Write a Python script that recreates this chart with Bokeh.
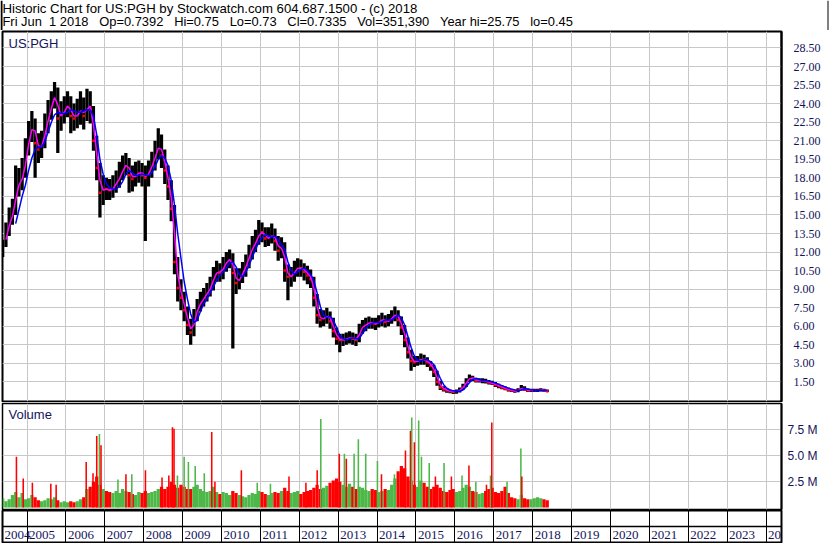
import pandas as pd
from bokeh.plotting import figure
from bokeh.layouts import column
from bokeh.models import Range1d, FixedTicker, Grid, Span, Label, PrintfTickFormatter
from bokeh.embed import file_html
from bokeh.resources import INLINE
from bokeh.core.properties import value

# ---------------- data ----------------
first_month = "2004-05"   # monthly series start, 169 months to 2018-05
close = [12.2, 13.7, 14.7, 15.3, 17.5, 17.8, 18.2, 20.2, 21.5, 22.6,
         20.8, 20.3, 20.8, 22.2, 23.3, 24.2, 25.0, 22.8, 23.0, 23.6,
         24.0, 23.0, 22.8, 23.3, 23.6, 23.0, 24.2, 23.5, 21.0, 18.8,
         16.8, 17.2, 17.1, 17.0, 17.3, 17.7, 18.2, 18.9, 19.2, 18.2,
         17.9, 18.4, 18.5, 18.2, 18.0, 18.6, 19.2, 20.0, 20.8, 19.8,
         18.6, 17.3, 15.5, 11.2, 9.1, 8.3, 7.3, 6.1, 5.5, 6.8,
         7.6, 8.1, 8.4, 8.8, 9.3, 10.1, 10.5, 10.3, 10.9, 11.3,
         11.5, 10.3, 9.5, 10.0, 10.5, 11.1, 11.9, 12.5, 13.0, 13.7,
         13.6, 13.1, 13.2, 13.5, 12.9, 12.1, 12.6, 10.5, 10.0, 10.0,
         10.6, 10.8, 10.7, 10.4, 10.1, 9.8, 8.3, 6.9, 6.5, 6.7,
         6.9, 6.4, 5.6, 5.0, 4.9, 4.9, 5.0, 5.1, 5.0, 4.9,
         5.8, 6.0, 6.2, 6.3, 6.25, 6.2, 6.4, 6.6, 6.35, 6.5,
         6.8, 7.0, 6.5, 5.9, 4.9, 3.9, 3.2, 3.1, 3.2, 3.35,
         3.3, 3.1, 2.8, 2.3, 1.5, 1.05, 0.9, 0.8, 0.75, 0.7,
         0.75, 0.9, 1.2, 1.6, 1.9, 1.75, 1.6, 1.6, 1.6, 1.55,
         1.45, 1.4, 1.25, 1.15, 1.05, 0.95, 0.85, 0.8, 0.75, 0.85,
         1.05, 0.9, 0.8, 0.8, 0.8, 0.8, 0.85, 0.8, 0.75]
high = [13.0, 14.4, 15.6, 16.3, 19.0, 18.8, 19.6, 21.2, 22.6, 23.4,
        22.8, 21.6, 21.8, 23.2, 24.3, 25.0, 25.75, 25.3, 24.2, 24.6,
        25.0, 24.6, 24.0, 24.4, 25.0, 24.5, 25.2, 25.0, 23.8, 21.4,
        19.2, 18.2, 18.0, 17.9, 18.2, 18.6, 19.3, 19.8, 20.0, 19.6,
        19.0, 19.3, 19.4, 19.2, 19.0, 19.4, 20.1, 21.0, 22.0, 21.5,
        20.3, 19.0, 17.8, 15.8, 11.6, 9.8, 8.8, 7.6, 6.6, 7.4,
        8.2, 8.8, 9.1, 9.5, 10.0, 10.8, 11.3, 11.1, 11.6, 12.0,
        12.2, 11.9, 10.7, 10.7, 11.2, 11.8, 12.6, 13.3, 13.8, 14.6,
        14.4, 14.0, 14.0, 14.3, 13.9, 13.3, 13.2, 12.8, 11.0, 10.8,
        11.3, 11.5, 11.4, 11.1, 10.9, 10.6, 10.0, 8.6, 7.4, 7.3,
        7.5, 7.2, 6.7, 5.9, 5.4, 5.4, 5.5, 5.6, 5.5, 5.4,
        6.2, 6.5, 6.7, 6.8, 6.7, 6.7, 6.9, 7.1, 6.9, 7.0,
        7.3, 7.6, 7.3, 6.8, 6.1, 5.1, 4.1, 3.6, 3.6, 3.8,
        3.7, 3.5, 3.2, 2.9, 2.4, 1.6, 1.15, 1.0, 0.9, 0.85,
        0.9, 1.05, 1.35, 1.8, 2.1, 2.0, 1.85, 1.8, 1.8, 1.75,
        1.65, 1.6, 1.5, 1.35, 1.25, 1.15, 1.05, 0.95, 0.9, 1.0,
        1.25, 1.15, 0.98, 0.95, 0.95, 0.95, 1.0, 0.95, 0.9]
low = [11.6, 12.4, 13.3, 14.2, 15.0, 16.5, 17.0, 18.0, 19.8, 20.9,
       18.0, 19.2, 19.6, 20.4, 21.6, 22.7, 23.6, 20.0, 21.8, 22.4,
       22.9, 21.6, 21.8, 22.0, 22.3, 21.9, 22.6, 22.4, 20.2, 17.8,
       14.8, 15.8, 16.2, 16.2, 16.4, 16.8, 17.2, 17.8, 18.2, 16.8,
       16.9, 17.3, 17.6, 17.3, 12.9, 17.3, 18.0, 18.6, 19.5, 18.8,
       17.5, 16.2, 14.5, 10.2, 8.0, 7.3, 6.4, 5.3, 4.5, 5.2,
       6.4, 7.2, 7.6, 8.0, 8.4, 8.9, 9.6, 9.6, 9.8, 10.4,
       10.7, 4.2, 8.6, 9.0, 9.5, 10.0, 10.7, 11.4, 12.0, 12.6,
       12.8, 12.4, 12.5, 12.7, 12.1, 11.3, 11.5, 9.6, 8.1, 9.2,
       9.6, 10.0, 10.0, 9.7, 9.4, 9.1, 7.6, 6.2, 5.9, 6.0,
       6.2, 5.8, 5.1, 4.5, 3.9, 4.4, 4.5, 4.6, 4.5, 4.4,
       4.7, 5.4, 5.6, 5.8, 5.8, 5.7, 5.9, 6.0, 5.9, 6.0,
       6.2, 6.4, 6.0, 5.3, 4.3, 3.4, 2.4, 2.7, 2.8, 2.9,
       2.9, 2.7, 2.4, 1.9, 1.2, 0.85, 0.72, 0.62, 0.58, 0.52,
       0.55, 0.65, 0.85, 1.1, 1.5, 1.55, 1.45, 1.45, 1.4, 1.38,
       1.3, 1.25, 1.1, 1.0, 0.92, 0.82, 0.72, 0.68, 0.62, 0.66,
       0.8, 0.78, 0.68, 0.68, 0.68, 0.68, 0.72, 0.7, 0.68]
# short moving average (magenta), starts at month index 1
ma_short = [13.0, 14.1, 14.9, 16.2, 17.4, 17.9, 19.0, 20.7, 21.9,
            21.8, 20.6, 20.5, 21.4, 22.6, 23.6, 24.5, 23.9, 23.0, 23.3,
            23.8, 23.5, 23.0, 23.0, 23.4, 23.3, 23.5, 23.8, 22.3, 20.0,
            17.8, 17.0, 17.1, 17.0, 17.1, 17.5, 17.9, 18.5, 19.0, 18.8,
            18.1, 18.1, 18.4, 18.4, 18.1, 18.3, 18.9, 19.6, 20.4, 20.3,
            19.3, 18.0, 16.4, 13.5, 10.2, 8.8, 7.8, 6.7, 5.8, 6.1,
            7.2, 7.8, 8.2, 8.6, 9.0, 9.7, 10.3, 10.4, 10.6, 11.1,
            11.4, 11.0, 9.9, 9.7, 10.2, 10.8, 11.5, 12.2, 12.7, 13.3,
            13.6, 13.4, 13.1, 13.3, 13.2, 12.5, 12.3, 11.6, 10.3, 10.0,
            10.3, 10.7, 10.7, 10.6, 10.3, 10.0, 9.1, 7.6, 6.7, 6.6,
            6.8, 6.7, 6.0, 5.3, 4.95, 4.9, 4.95, 5.05, 5.05, 4.95,
            5.3, 5.9, 6.1, 6.25, 6.3, 6.2, 6.3, 6.5, 6.5, 6.4,
            6.6, 6.9, 6.8, 6.2, 5.4, 4.4, 3.5, 3.15, 3.15, 3.3,
            3.3, 3.2, 2.95, 2.55, 1.9, 1.3, 0.98, 0.85, 0.78, 0.72,
            0.72, 0.82, 1.05, 1.4, 1.75, 1.82, 1.68, 1.6, 1.6, 1.58,
            1.5, 1.42, 1.32, 1.2, 1.1, 1.0, 0.9, 0.82, 0.78, 0.8,
            0.95, 0.98, 0.85, 0.8, 0.8, 0.8, 0.82, 0.82, 0.78]
# long moving average (blue), starts at month index 4
ma_long = [14.3, 15.4, 16.5, 17.4, 18.6, 19.6,
           20.3, 20.5, 20.5, 20.9, 21.7, 22.5, 23.1, 23.3, 23.2, 23.2,
           23.3, 23.5, 23.4, 23.3, 23.3, 23.4, 23.5, 23.5, 23.0, 21.5,
           19.5, 18.3, 17.5, 17.2, 17.1, 17.1, 17.3, 17.7, 18.3, 18.6,
           18.4, 18.2, 18.2, 18.3, 18.2, 18.2, 18.4, 18.9, 19.5, 19.8,
           19.6, 19.0, 17.8, 15.8, 13.5, 11.5, 9.6, 8.2, 7.0, 6.3,
           6.5, 7.2, 7.8, 8.2, 8.7, 9.2, 9.7, 10.1, 10.4, 10.7,
           11.1, 11.2, 10.8, 10.2, 10.0, 10.4, 10.9, 11.6, 12.2, 12.8,
           13.2, 13.4, 13.3, 13.2, 13.3, 13.0, 12.6, 12.2, 11.2, 10.5,
           10.2, 10.4, 10.6, 10.7, 10.5, 10.2, 9.7, 8.7, 7.6, 6.9,
           6.7, 6.8, 6.5, 5.9, 5.3, 5.0, 4.9, 5.0, 5.05, 5.0,
           5.0, 5.4, 5.8, 6.1, 6.25, 6.3, 6.3, 6.35, 6.5, 6.5,
           6.5, 6.7, 6.9, 6.7, 6.1, 5.2, 4.3, 3.6, 3.25, 3.2,
           3.3, 3.3, 3.15, 2.9, 2.4, 1.8, 1.3, 1.0, 0.85, 0.78,
           0.74, 0.75, 0.85, 1.1, 1.45, 1.7, 1.78, 1.7, 1.62, 1.6,
           1.56, 1.5, 1.42, 1.32, 1.2, 1.1, 1.0, 0.92, 0.85, 0.8,
           0.85, 0.95, 0.93, 0.86, 0.82, 0.8, 0.8, 0.82, 0.8]
# typical monthly volume (millions)
volume = [0.9, 0.6, 0.8, 1.2, 1.5, 1.0, 1.4, 0.8, 0.9, 1.2,
          1.0, 0.7, 0.6, 0.7, 0.9, 0.8, 1.0, 0.7, 0.5, 0.6,
          0.5, 0.6, 0.5, 0.6, 0.8, 1.0, 1.8, 2.0, 2.5, 3.0,
          2.2, 1.8, 1.6, 1.5, 1.4, 1.6, 1.4, 1.8, 1.6, 1.5,
          1.3, 1.2, 1.5, 1.4, 1.6, 1.4, 1.5, 1.6, 1.8, 2.0,
          1.8, 2.0, 2.5, 2.2, 1.9, 2.2, 2.0, 1.8, 1.8, 2.0,
          2.2, 1.8, 1.6, 1.5, 1.6, 2.0, 1.5, 1.3, 1.5, 1.4,
          1.2, 1.6, 1.4, 1.2, 1.1, 1.0, 1.2, 1.4, 1.3, 1.6,
          1.5, 1.3, 1.2, 1.4, 1.5, 1.4, 1.6, 1.9, 1.6, 1.4,
          1.5, 1.6, 1.3, 1.5, 1.6, 1.7, 1.9, 2.2, 1.8, 1.9,
          2.1, 2.4, 2.6, 2.8, 2.5, 2.2, 2.0, 2.3, 2.0, 1.8,
          2.0, 1.9, 1.7, 1.6, 1.8, 1.7, 1.5, 1.6, 1.8, 1.7,
          2.2, 2.8, 3.5, 4.0, 3.8, 3.0, 2.6, 2.2, 2.0, 2.6,
          2.4, 2.0, 1.8, 2.0, 2.2, 1.9, 1.6, 1.5, 1.7, 1.8,
          1.5, 1.6, 1.9, 2.2, 2.0, 1.6, 1.5, 1.3, 1.4, 1.6,
          1.8, 1.9, 1.5, 1.4, 1.6, 2.0, 1.4, 1.0, 0.9, 0.8,
          1.2, 0.9, 0.8, 0.8, 0.9, 1.0, 0.9, 0.8, 0.7]
# single-day volume spikes (millions)
spike_dates = ["2004-09-23", "2004-11-26", "2005-02-20", "2005-08-12", "2005-10-01",
               "2006-07-10", "2006-09-12", "2006-10-17", "2006-11-11", "2006-11-26",
               "2007-05-04", "2007-07-18", "2007-09-11", "2008-01-17", "2008-06-21",
               "2008-08-24", "2008-09-27", "2008-10-12", "2008-11-13", "2009-01-15",
               "2009-02-24", "2009-04-29", "2009-07-23", "2009-10-01", "2009-10-31",
               "2010-07-06", "2010-12-02", "2011-04-05", "2011-09-26", "2012-03-03",
               "2012-06-17", "2012-07-21", "2013-01-11", "2013-02-28", "2013-03-18",
               "2013-05-30", "2013-07-09", "2013-09-16", "2014-01-04", "2014-02-11",
               "2014-06-13", "2014-09-24", "2014-11-10", "2014-11-22", "2014-12-17",
               "2015-01-26", "2015-02-21", "2015-05-05", "2015-07-02", "2015-09-21",
               "2015-11-29", "2016-03-08", "2016-05-12", "2016-07-16", "2016-10-24",
               "2016-12-01", "2016-12-13", "2017-05-05", "2017-09-12", "2017-09-21"]
spike_vol = [4.9, 2.8, 2.4, 2.3, 2.2,
             4.4, 3.3, 6.9, 7.1, 6.0,
             2.7, 3.2, 3.2, 3.6, 2.9,
             3.1, 7.75, 7.6, 3.1, 4.9,
             4.4, 4.0, 3.3, 7.3, 2.5,
             3.6, 2.4, 2.3, 3.0, 2.4,
             3.6, 8.55, 5.2, 5.2, 4.7,
             5.2, 6.6, 5.2, 4.5, 3.2,
             3.2, 5.5, 7.4, 8.7, 6.3,
             8.4, 4.9, 4.3, 3.0, 4.3,
             3.0, 3.1, 4.05, 2.5, 2.2,
             3.1, 8.2, 2.5, 5.7, 3.0]
spike_dir = ["down", "down", "down", "down", "down",
             "down", "down", "down", "up", "down",
             "up", "down", "up", "down", "down",
             "down", "down", "down", "up", "up",
             "up", "up", "up", "down", "down",
             "down", "up", "up", "down", "down",
             "down", "up", "down", "up", "down",
             "up", "up", "up", "up", "down",
             "up", "down", "down", "up", "down",
             "up", "up", "up", "down", "up",
             "down", "up", "down", "up", "down",
             "up", "down", "up", "up", "down"]
price_ticks = [1.5, 3.0, 4.5, 6.0, 7.5, 9.0, 10.5, 12.0, 13.5, 15.0, 16.5, 18.0,
               19.5, 21.0, 22.5, 24.0, 25.5, 27.0, 28.5]
volume_ticks = [2.5, 5.0, 7.5]
year_labels = list(range(2004, 2025))

SP2 = "\u00a0\u00a0"
SP3 = "\u00a0\u00a0\u00a0"
header1 = "Historic Chart for US:PGH by Stockwatch.com 604.687.1500 - (c) 2018"
header2 = ("Fri Jun" + SP2 + "1 2018" + SP3 + "Op=0.7392" + SP3 + "Hi=0.75" + SP3 + "Lo=0.73"
           + SP3 + "Cl=0.7335" + SP3 + "Vol=351,390" + SP3 + "Year hi=25.75" + SP3 + "lo=0.45")

# ---------------- derived positions ----------------
def dec_year(ts):
    ts = pd.Timestamp(ts)
    n = 366 if ts.is_leap_year else 365
    return ts.year + (ts.dayofyear - 0.5) / n

months = pd.period_range(first_month, periods=len(close), freq="M")
mx = [p.year + (p.month - 0.5) / 12.0 for p in months]
up = [True] + [close[i] >= close[i - 1] for i in range(1, len(close))]
sx = [dec_year(d) for d in spike_dates]

X0, X1 = 2004.370, 2024.398
W = 830
H_HEAD, H_PRICE, H_VOL, H_DATE = 30, 372, 108, 33
LB, RB = 2, 49
GRID = "#c8c8c8"
LABEL = "#14145a"
RED = "#ff0000"
GREEN = "#4db848"
NARROW = "Liberation Sans Narrow"
SANS = "Liberation Sans"
year_ticks = list(range(2005, 2025))


def base_fig(h, yr, **kw):
    f = figure(width=W, height=h, x_range=Range1d(X0, X1), y_range=yr,
               output_backend="svg", toolbar_location=None,
               min_border_left=LB, min_border_right=RB, **kw)
    f.background_fill_color = "white"
    f.border_fill_color = "white"
    f.outline_line_color = "black"
    f.outline_line_width = 2
    f.center = [r for r in f.center if not (isinstance(r, Grid) and r.dimension == 0)]
    f.add_layout(Grid(dimension=0, ticker=FixedTicker(ticks=year_ticks),
                      grid_line_color=GRID, grid_line_width=1))
    return f


# header
hd = figure(width=W, height=H_HEAD, x_range=Range1d(0, W), y_range=Range1d(0, H_HEAD),
            output_backend="svg", toolbar_location=None, min_border=0,
            x_axis_location=None, y_axis_location=None)
hd.frame_align = False
hd.center = [r for r in hd.center if not isinstance(r, Grid)]
hd.outline_line_color = None
hd.text(x=[2], y=[H_HEAD - 0.5], text=[header1],
        text_font=value(SANS), text_font_size=value("13.2px"), text_color="black",
        text_baseline="top", text_align="left")
hd.text(x=[2], y=[H_HEAD - 13], text=[header2],
        text_font=value(SANS), text_font_size=value("12.9px"), text_color="black",
        text_baseline="top", text_align="left")
hd.add_layout(Span(location=1, dimension="height", line_color="black", line_width=2))
hd.add_layout(Span(location=W - 2.5, dimension="height", line_color="black", line_width=1))

# price
p = base_fig(H_PRICE, Range1d(-0.08, 29.83), x_axis_location=None, y_axis_location="right",
             min_border_top=1, min_border_bottom=1)
p.ygrid.grid_line_color = GRID
p.yaxis.ticker = FixedTicker(ticks=price_ticks)
p.yaxis.formatter = PrintfTickFormatter(format="%.2f")
p.vbar(x=mx, bottom=low, top=high, width=1 / 12.0, fill_color="black", line_color=None)
dn_x = [x for x, u in zip(mx, up) if not u]
dn_c = [c for c, u in zip(close, up) if not u]
p.scatter(x=dn_x, y=dn_c, marker="square", size=2.5, fill_color=RED, line_color=None)
p.line(x=mx[1:], y=ma_short, line_color="#ff00ff", line_width=1.5)
p.line(x=mx[4:], y=ma_long, line_color="#0000ff", line_width=1.5)
p.add_layout(Label(x=6, y=H_PRICE - 2 - 4, x_units="screen", y_units="screen", text="US:PGH",
                   text_font=SANS, text_font_size="13px", text_color=LABEL,
                   text_baseline="top"))

# volume
v = base_fig(H_VOL, Range1d(-0.19, 10.04), x_axis_location=None, y_axis_location="right",
             min_border_top=1, min_border_bottom=1)
v.ygrid.grid_line_color = GRID
v.yaxis.ticker = FixedTicker(ticks=volume_ticks)
v.yaxis.formatter = PrintfTickFormatter(format="%.1f M")
v.outline_line_width = 1.5
v.vbar(x=mx, top=volume, bottom=0, width=1 / 12.0,
       fill_color=[GREEN if u else RED for u in up], line_color=None)
v.vbar(x=sx, top=spike_vol, bottom=0, width=0.04,
       fill_color=[GREEN if d == "up" else RED for d in spike_dir], line_color=None)
v.add_layout(Label(x=6, y=H_VOL - 2 - 3, x_units="screen", y_units="screen", text="Volume",
                   text_font=SANS, text_font_size="13px", text_color=LABEL,
                   text_baseline="top"))

for f, standoff, font, size in ((p, 12, NARROW, "12px"), (v, 6, SANS, "12px")):
    ax = f.yaxis[0]
    ax.axis_line_color = "black"
    ax.axis_line_width = 2
    ax.major_tick_line_color = None
    ax.minor_tick_line_color = None
    ax.major_tick_out = 0
    ax.major_tick_in = 0
    ax.major_label_standoff = standoff
    ax.major_label_text_font = font
    ax.major_label_text_font_size = size
    ax.major_label_text_color = LABEL

# date strip
d = base_fig(H_DATE, Range1d(0, 1), x_axis_location=None, y_axis_location=None,
             min_border_top=0, min_border_bottom=1)
d.center = [r for r in d.center if not isinstance(r, Grid)]
d.add_layout(Grid(dimension=0, ticker=FixedTicker(ticks=year_ticks),
                  grid_line_color="black", grid_line_width=1))
d.add_layout(Span(location=0.5, dimension="width", line_color="black", line_width=1.5))
lx = [max(float(y), X0) for y in year_labels]
d.text(x=lx, y=[0.24] * len(lx), text=[str(y) for y in year_labels],
       text_font=value(NARROW), text_font_size=value("13px"), text_color=LABEL,
       text_baseline="middle", text_align="left", x_offset=2)

layout = column(hd, p, v, d, spacing=0)
open("out.html", "w").write(file_html(layout, INLINE))
